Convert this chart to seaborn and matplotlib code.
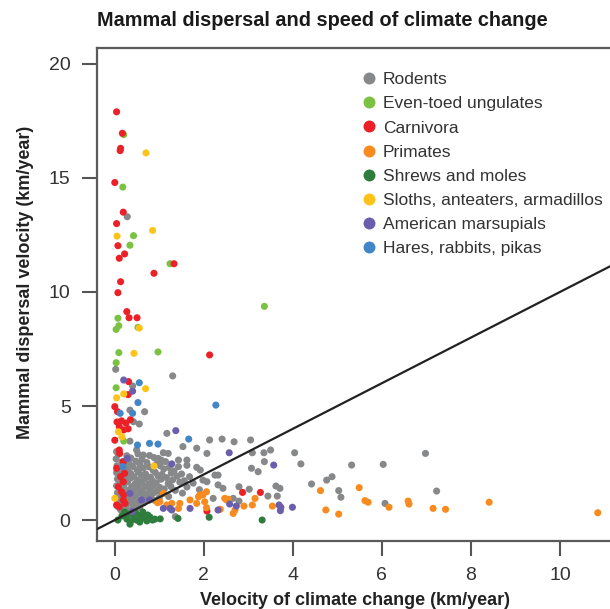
import pandas as pd
import seaborn as sns
import matplotlib.pyplot as plt
from matplotlib.lines import Line2D

# Daten: Geschwindigkeit Klimawandel (x) und Ausbreitung der Saeugetiere (y), km/Jahr
rodents_x = [0.28, 0.02, 1.3, 0.4, 0.34, 0.67, 0.42, 0.55, 0.34, 1.17, 1.53, 1.84, 1.09, 1.2, 0.98,
             1.43, 1.62, 1.43, 1.62, 1.84, 1.92, 0.04, 0.49, 0.64,
             2.13, 2.41, 2.68, 3.05, 2.07, 3.09, 3.35, 3.5, 3.36, 4.04, 4.18, 3.07, 3.22, 2.25, 2.32,
             1.98, 2.07, 2.32, 2.43, 2.79, 3.02, 3.62, 3.71, 3.44, 3.65, 2.21, 2.66, 2.79, 5.32, 6.03,
             6.98, 4.42, 4.76, 4.88, 5.03, 5.08, 6.07, 7.23, 1.36,
             0.08, 0.27, 0.52, 0.78, 0.03, 0.36, 0.61, 0.88, 1.05, 0.16, 0.31, 0.47, 0.72, 0.94, 1.14,
             0.05, 0.23, 0.4, 0.56, 0.77, 1.02, 1.22, 0.12, 0.29, 0.5, 0.64, 0.86, 1.1, 1.33,
             0.04, 0.2, 0.36, 0.53, 0.69, 0.91, 1.06, 1.27, 1.5, 0.15, 0.29, 0.43, 0.6, 0.8, 0.97,
             1.16, 1.4, 1.68, 0.06, 0.22, 0.35, 0.51, 0.68, 0.84, 1.04, 1.3, 1.56, 0.12, 0.29, 0.46,
             0.61, 0.76, 0.93, 1.2, 1.46, 1.76, 0.04, 0.2, 0.38, 0.53, 0.68, 0.86, 1.01, 1.26, 1.62,
             0.15, 0.31, 0.45, 0.6, 0.79, 0.96, 1.11, 1.36, 1.9, 0.06, 0.25, 0.41, 0.56, 0.71, 0.88,
             1.06, 1.52, 0.12, 0.31, 0.48, 0.63, 0.81, 1.0, 1.21, 0.05, 0.22, 0.4, 0.55, 0.71, 0.9,
             0.15, 0.33, 0.48, 0.65, 0.06, 0.25, 0.41, 0.56, 0.13, 0.3]
rodents_y = [13.3, 6.61, 6.32, 5.88, 4.82, 4.75, 4.31, 4.21, 3.46, 3.8, 3.22, 3.15, 2.95, 2.92, 2.7,
             2.63, 2.63, 2.34, 2.4, 2.31, 2.19, 3.0, 3.07, 2.85,
             3.51, 3.55, 3.43, 3.51, 2.92, 2.95, 2.95, 3.07, 2.56, 2.95, 2.46, 2.27, 2.12, 1.97, 1.97,
             1.75, 1.68, 1.54, 1.39, 1.46, 1.35, 1.49, 1.39, 1.05, 1.05, 0.95, 0.95, 0.83, 2.41, 2.44,
             2.92, 1.58, 1.75, 1.9, 1.29, 1.0, 0.73, 1.27, 0.15,
             2.88, 2.82, 2.9, 2.83, 2.68, 2.72, 2.66, 2.74, 2.62, 2.55, 2.5, 2.58, 2.52, 2.47, 2.56,
             2.38, 2.42, 2.35, 2.44, 2.33, 2.38, 2.3, 2.22, 2.27, 2.2, 2.28, 2.18, 2.24, 2.15,
             2.08, 2.12, 2.04, 2.1, 2.02, 2.09, 2.0, 2.06, 2.02, 1.94, 1.97, 1.9, 1.96, 1.88, 1.93,
             1.86, 1.92, 1.9, 1.8, 1.77, 1.84, 1.75, 1.82, 1.73, 1.79, 1.76, 1.72, 1.64, 1.68, 1.6,
             1.66, 1.58, 1.63, 1.6, 1.66, 1.62, 1.5, 1.53, 1.46, 1.52, 1.44, 1.5, 1.43, 1.47, 1.45,
             1.36, 1.32, 1.38, 1.3, 1.35, 1.28, 1.36, 1.3, 1.33, 1.2, 1.23, 1.16, 1.21, 1.14, 1.2,
             1.15, 1.18, 1.06, 1.02, 1.08, 1.0, 1.05, 0.98, 1.03, 0.9, 0.86, 0.92, 0.84, 0.9, 0.86,
             0.74, 0.77, 0.7, 0.75, 0.6, 0.57, 0.62, 0.55, 0.45, 0.42]

ungulates_x = [0.2, 0.18, 0.42, 0.34, 1.24, 0.07, 0.09, 0.03, 0.52, 0.09, 0.97, 0.03, 3.36, 0.03, 0.2]
ungulates_y = [16.9, 14.6, 12.47, 12.05, 11.24, 8.85, 8.52, 8.36, 8.45, 7.34, 7.37, 6.9, 9.37, 5.8, 3.46]

carnivora_x = [0.04, 0.17, 0.13, 0.12, 0.0, 0.19, 0.04, 0.07, 0.22, 0.1, 1.33, 0.88, 0.13, 0.07,
               0.27, 0.32, 0.5, 2.13, 0.31, 0.3, 0.0, 0.06, 0.05, 0.15, 0.25, 0.1, 0.3, 0.2, 0.35,
               0.0, 0.11, 0.1, 0.19, 0.04, 0.22, 0.13, 0.19, 0.08, 0.15, 0.2, 0.19, 0.1, 0.23, 0.04,
               2.87, 3.27, 2.07]
carnivora_y = [17.9, 16.96, 16.3, 16.2, 14.8, 13.5, 13.0, 12.03, 11.67, 11.48, 11.24, 10.82, 10.45, 9.97,
               9.14, 8.87, 8.87, 7.24, 6.07, 5.5, 4.97, 4.75, 4.3, 4.35, 4.25, 4.1, 4.0, 3.95, 4.4,
               3.5, 2.92, 3.07, 2.56, 2.27, 2.05, 1.9, 1.68, 1.46, 1.24, 1.1, 0.88, 0.58, 0.73, 0.66,
               1.21, 1.21, 0.39]

primates_x = [0.96, 1.17, 1.43, 1.28, 1.84, 1.88, 1.98, 2.02, 2.06, 2.47, 2.55, 2.9, 3.09, 2.37, 2.66,
              2.7, 3.54, 3.15, 4.62, 5.49, 5.62, 5.69, 6.16, 6.59, 6.61, 7.15, 7.43, 4.74, 5.03, 8.41,
              10.85, 1.91, 1.69, 1.46, 1.01, 1.09, 2.06, 2.51]
primates_y = [0.76, 0.66, 0.51, 0.73, 0.73, 1.02, 1.1, 0.8, 0.54, 0.95, 0.91, 0.61, 0.66, 0.47, 0.29,
              0.44, 0.61, 0.95, 1.29, 1.42, 0.85, 0.78, 0.56, 0.83, 0.7, 0.51, 0.47, 0.44, 0.26, 0.78,
              0.32, 1.1, 0.88, 0.73, 0.8, 1.17, 1.24, 0.88]

shrews_x = [0.07, 0.16, 0.27, 0.36, 0.43, 0.49, 0.56, 0.65, 0.72, 0.79, 0.85, 0.22, 0.47, 0.63, 0.74,
            0.9, 0.34, 0.58, 0.3, 1.02, 1.42, 2.12, 3.31]
shrews_y = [0.0, 0.18, 0.04, -0.04, 0.13, 0.0, -0.09, 0.09, -0.04, 0.13, 0.0, 0.35, 0.31, 0.35, 0.22,
            0.04, -0.18, 0.2, 0.25, 0.05, 0.07, 0.12, 0.0]

sloths_x = [0.7, 0.85, 0.05, 0.55, 0.43, 0.69, 0.2, 0.04, 0.08, 0.88, 0.0, 0.16]
sloths_y = [16.1, 12.7, 12.45, 8.42, 7.31, 5.76, 5.53, 5.36, 3.87, 2.37, 0.95, 3.65]

marsupials_x = [0.2, 0.4, 1.37, 1.28, 0.28, 0.34, 0.78, 1.09, 1.28, 1.69, 2.57, 3.57, 2.58, 2.73,
                2.32, 3.69, 3.72, 3.99, 3.73, 0.4, 0.6, 1.24]
marsupials_y = [6.14, 5.65, 3.92, 2.46, 2.7, 1.17, 0.88, 0.51, 0.44, 0.51, 2.95, 2.41, 0.7, 0.61,
                0.44, 0.66, 0.41, 0.56, 0.56, 0.37, 0.88, 0.51]

hares_x = [0.55, 0.52, 0.12, 0.4, 0.51, 0.78, 0.97, 1.66, 2.27, 0.18]
hares_y = [6.02, 5.15, 4.68, 4.68, 3.29, 3.36, 3.33, 3.55, 5.04, 2.34]

groups = ['Rodents', 'Even-toed ungulates', 'Carnivora', 'Primates', 'Shrews and moles',
          'Sloths, anteaters, armadillos', 'American marsupials', 'Hares, rabbits, pikas']
colors = ['#87888a', '#7cc242', '#ec2027', '#f78b1f', '#2f7d3c', '#fec31a', '#6b5fad', '#4386c8']
xticks = [0, 2, 4, 6, 8, 10]
yticks = [0, 5, 10, 15, 20]

# Tabelle fuer seaborn bauen
series = [(rodents_x, rodents_y), (ungulates_x, ungulates_y), (carnivora_x, carnivora_y),
          (primates_x, primates_y), (shrews_x, shrews_y), (sloths_x, sloths_y),
          (marsupials_x, marsupials_y), (hares_x, hares_y)]
frames = []
for name, (xs, ys) in zip(groups, series):
    frames.append(pd.DataFrame({'climate': xs, 'dispersal': ys, 'group': name}))
df = pd.concat(frames, ignore_index=True)

sns.set_style('white')
plt.rcParams['font.family'] = ['Liberation Sans', 'DejaVu Sans']

fig = plt.figure(figsize=(6.1, 6.09), dpi=100)
ax = fig.add_axes([97 / 610, 68 / 609, 515 / 610, 493 / 609])

sns.scatterplot(data=df, x='climate', y='dispersal', hue='group', hue_order=groups,
                palette=colors, s=26, linewidth=0, legend=False, ax=ax, zorder=3)

# 1:1 Linie
ax.axline((0, 0), slope=1, color='#222222', linewidth=1.6, zorder=4)

ax.set_xlim(-0.4, 11.17)
ax.set_ylim(-0.92, 20.7)
ax.set_xticks(xticks)
ax.set_yticks(yticks)
# Striche an den Achsen wieder einschalten (style 'white' schaltet sie aus)
ax.tick_params(axis='both', which='major', bottom=True, left=True, direction='out', length=11,
               width=1.5, color='#555555', labelsize=14, labelcolor='#333333', pad=8)

for side in ['left', 'bottom', 'top']:
    ax.spines[side].set_color('#5a5a5a')
    ax.spines[side].set_linewidth(1.6)
ax.spines['right'].set_visible(False)

ax.set_xlabel('Velocity of climate change (km/year)', fontsize=13, fontweight='bold',
              color='#222222')
ax.set_ylabel('Mammal dispersal velocity (km/year)', fontsize=13, fontweight='bold',
              color='#222222')
ax.xaxis.set_label_coords(0.5, -0.104)
ax.yaxis.set_label_coords(-0.123, 0.525)

fig.text(97 / 610, 1 - 20 / 609, 'Mammal dispersal and speed of climate change', fontsize=14.3,
         fontweight='bold', color='#1a1a1a', ha='left', va='center')

# Legende
handles = [Line2D([0], [0], marker='o', linestyle='', markersize=8.6, markerfacecolor=c,
                  markeredgewidth=0) for c in colors]
ax.legend(handles, groups, loc='upper left', bbox_to_anchor=(362 / 610, 1 - 72 / 609),
          bbox_transform=fig.transFigure, frameon=False, fontsize=12.5, handlelength=0.8,
          handletextpad=0.4, labelspacing=0.52, borderpad=0, borderaxespad=0,
          labelcolor='#333333')

plt.savefig('out.png', dpi=100)
